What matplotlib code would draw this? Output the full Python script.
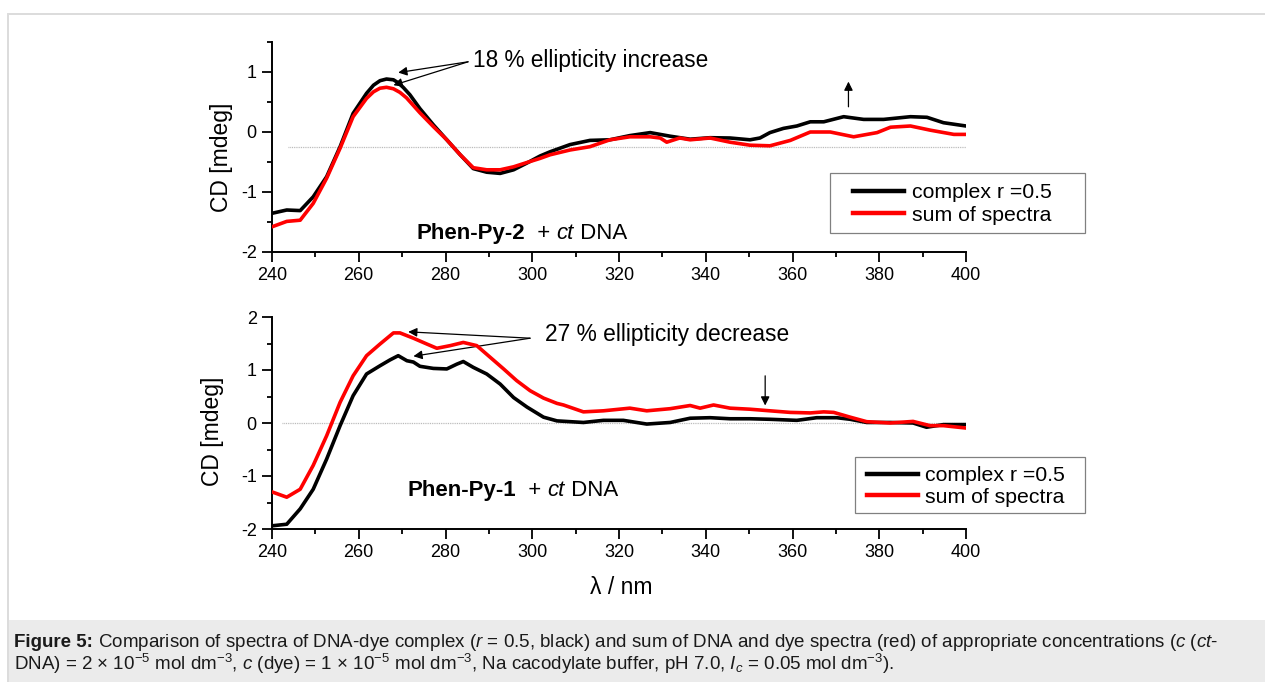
import matplotlib
matplotlib.use("Agg")
import matplotlib.pyplot as plt
from matplotlib.lines import Line2D
from matplotlib.patches import Rectangle
from matplotlib.ticker import MultipleLocator
from matplotlib.transforms import offset_copy

plt.rcParams['font.family'] = ['Liberation Sans', 'DejaVu Sans']
plt.rcParams['mathtext.fontset'] = 'custom'
plt.rcParams['mathtext.rm'] = 'Liberation Sans'
plt.rcParams['mathtext.it'] = 'Liberation Sans:italic'
plt.rcParams['mathtext.bf'] = 'Liberation Sans:bold'
plt.rcParams['axes.unicode_minus'] = False

# ---- Phen-Py-2 + ct DNA (upper panel) ----
wl_py2_complex = [240, 243.4, 246.5, 249.5, 252.6, 255.7, 258.7, 261.8, 263.4, 264.9,
                  266.4, 268.0, 269.1, 270.3, 271.8, 274.1, 277.2, 280.3, 283.4, 286.4,
                  289.5, 292.6, 295.7, 298.7, 301.8, 304.1, 308.7, 313.3, 317.9, 322.5,
                  327.2, 331.8, 336.4, 341.0, 345.6, 350.2, 352.5, 354.8, 357.9, 361.0,
                  364.1, 367.2, 371.8, 376.4, 381.0, 387.2, 391.0, 394.8, 400]
cd_py2_complex = [-1.355, -1.30, -1.31, -1.08, -0.745, -0.245, 0.31, 0.645, 0.78, 0.855,
                  0.883, 0.87, 0.82, 0.74, 0.62, 0.39, 0.12, -0.13, -0.38, -0.61,
                  -0.67, -0.69, -0.63, -0.52, -0.40, -0.33, -0.21, -0.14, -0.13, -0.06,
                  -0.01, -0.07, -0.12, -0.095, -0.10, -0.13, -0.10, -0.01, 0.06, 0.10,
                  0.17, 0.17, 0.255, 0.21, 0.21, 0.255, 0.245, 0.155, 0.10]

wl_py2_sum = [240, 243.4, 246.5, 249.5, 252.6, 255.7, 258.7, 261.8, 263.4, 264.9,
              266.4, 268.0, 269.5, 271.0, 274.1, 277.2, 280.3, 283.4, 286.4, 289.5,
              292.6, 295.7, 298.7, 301.8, 304.1, 308.7, 313.3, 317.9, 322.5, 327.2,
              329.5, 331.0, 334.0, 336.4, 341.0, 345.6, 350.2, 354.8, 359.5, 364.1,
              368.7, 374.1, 379.5, 382.6, 387.2, 391.8, 397.2, 400]
cd_py2_sum = [-1.58, -1.49, -1.47, -1.19, -0.77, -0.27, 0.255, 0.56, 0.67, 0.73,
              0.745, 0.72, 0.66, 0.57, 0.32, 0.09, -0.13, -0.38, -0.595, -0.63,
              -0.63, -0.58, -0.51, -0.44, -0.38, -0.30, -0.245, -0.13, -0.08, -0.08,
              -0.10, -0.17, -0.10, -0.13, -0.10, -0.17, -0.22, -0.23, -0.14, 0.0,
              0.0, -0.08, -0.01, 0.08, 0.10, 0.03, -0.04, -0.04]

# ---- Phen-Py-1 + ct DNA (lower panel) ----
wl_py1_complex = [240, 243.4, 246.5, 249.5, 252.6, 255.7, 258.7, 261.8, 264.9, 267.2,
                  269.1, 271.1, 272.6, 274.1, 277.2, 280.3, 282.6, 284.1, 286.4, 289.5,
                  292.6, 295.7, 298.8, 302.6, 305.7, 311.8, 316.4, 321.0, 326.4, 331.8,
                  336.4, 341.0, 345.6, 350.2, 354.8, 361.0, 365.6, 370.2, 373.3, 377.1,
                  382.5, 387.8, 390.9, 394.8, 400]
cd_py1_complex = [-1.94, -1.91, -1.62, -1.25, -0.68, -0.05, 0.515, 0.925, 1.08, 1.19,
                  1.27, 1.175, 1.15, 1.07, 1.03, 1.02, 1.11, 1.16, 1.05, 0.925,
                  0.735, 0.48, 0.30, 0.11, 0.04, 0.01, 0.05, 0.05, -0.02, 0.01,
                  0.09, 0.10, 0.08, 0.08, 0.07, 0.05, 0.10, 0.10, 0.07, 0.01,
                  0.01, 0.0, -0.08, -0.03, -0.03]

wl_py1_sum = [240, 243.4, 246.5, 249.5, 252.6, 255.7, 258.7, 261.8, 264.9, 268.0,
              269.5, 272.6, 275.7, 278.0, 281.1, 284.1, 287.2, 290.3, 293.4, 296.4,
              299.5, 302.6, 305.7, 307.2, 311.8, 316.4, 322.5, 326.4, 331.8, 336.4,
              338.7, 341.8, 345.6, 350.2, 354.8, 359.5, 364.1, 367.2, 369.5, 373.3,
              377.1, 382.5, 387.8, 391.7, 394.8, 400]
cd_py1_sum = [-1.30, -1.40, -1.25, -0.80, -0.24, 0.39, 0.89, 1.27, 1.49, 1.70,
              1.70, 1.60, 1.49, 1.41, 1.46, 1.52, 1.46, 1.24, 1.02, 0.80,
              0.61, 0.47, 0.37, 0.34, 0.21, 0.23, 0.28, 0.23, 0.27, 0.33,
              0.28, 0.34, 0.28, 0.26, 0.23, 0.20, 0.19, 0.21, 0.20, 0.11,
              0.025, 0.0, 0.03, -0.05, -0.05, -0.095]

legend_labels = ["complex r =0.5", "sum of spectra"]
x_ticks = [240, 260, 280, 300, 320, 340, 360, 380, 400]
y_ticks_top = [-2, -1, 0, 1]
y_ticks_bottom = [-2, -1, 0, 1, 2]
baseline_top = -0.25
baseline_bottom = 0.0

W, H = 1265, 682
fig = plt.figure(figsize=(W / 100, H / 100), dpi=100)
renderer = fig.canvas.get_renderer()


def fx(px):
    return px / W


def fy(py):
    return 1 - py / H


# page frame and caption panel
fig.patches.append(Rectangle((fx(8), -0.1), 1.0, fy(13.5) + 0.1, transform=fig.transFigure,
                             facecolor='white', edgecolor='#dcdcdc', lw=1.4, zorder=-2))
fig.patches.append(Rectangle((fx(8.7), 0), 1.0, fy(620), transform=fig.transFigure,
                             facecolor='#ebebeb', edgecolor='none', zorder=-1))

ax1 = fig.add_axes([fx(272), fy(252), 694 / W, 210 / H])
ax2 = fig.add_axes([fx(272), fy(529), 694 / W, 212 / H])

dot_pattern = [0.72, 0.72] * 23 + [0.72, 6.0]


def style_axes(ax, ylim, yticks):
    ax.set_xlim(240, 400)
    ax.set_ylim(*ylim)
    ax.set_xticks(x_ticks)
    ax.set_yticks(yticks)
    ax.xaxis.set_minor_locator(MultipleLocator(10))
    ax.yaxis.set_minor_locator(MultipleLocator(0.5))
    for s in ('top', 'right'):
        ax.spines[s].set_visible(False)
    for s in ('left', 'bottom'):
        ax.spines[s].set_linewidth(1.4)
    ax.tick_params(which='major', direction='out', length=7, width=1.3,
                   labelsize=13, pad=4, colors='black')
    ax.tick_params(which='minor', direction='out', length=3.8, width=1.3)
    ax.patch.set_alpha(0)


def draw_panel(ax, wl_c, cd_c, wl_s, cd_s, base, base_start):
    ax.plot([base_start, 400], [base, base], color='#b4b4b4', lw=0.9,
            dashes=dot_pattern, zorder=1)
    ax.plot(wl_c, cd_c, color='black', lw=2.6, solid_joinstyle='round',
            solid_capstyle='round', zorder=3)
    ax.plot(wl_s, cd_s, color='#ff0000', lw=2.6, solid_joinstyle='round',
            solid_capstyle='round', zorder=4)


LEG_SIZE = 15.3


def add_legend(ax, box, entry_left, entry_mid, spacing, textpad):
    """Legend entries without their own frame, inside a separately drawn box."""
    x0, y0, x1, y1 = box
    ax.add_patch(Rectangle((fx(x0), fy(y1)), (x1 - x0) / W, (y1 - y0) / H,
                           transform=fig.transFigure, facecolor='white',
                           edgecolor='#808080', lw=0.9, zorder=5, clip_on=False))
    handles = [Line2D([], [], color='black', lw=3.2),
               Line2D([], [], color='#ff0000', lw=3.2)]
    leg = ax.legend(handles, legend_labels, loc='center left',
                    bbox_to_anchor=(fx(entry_left), fy(entry_mid)),
                    bbox_transform=fig.transFigure, borderaxespad=0, borderpad=0,
                    frameon=False, fontsize=LEG_SIZE, handlelength=2.42,
                    handletextpad=textpad, labelspacing=spacing)
    leg.set_zorder(6)
    return leg


def run_text(x, y, parts, size, transform, **common):
    """Write pieces of text one after another on a shared baseline."""
    offset = 0.0
    for text, kw in parts:
        tr = offset_copy(transform, fig=fig, x=offset, y=0, units='dots')
        t = fig.text(x, y, text, fontsize=size, va='baseline', ha='left',
                     transform=tr, **common, **kw)
        offset += t.get_window_extent(renderer).width


def arrow(ax, tail, head):
    ax.annotate('', xy=head, xytext=tail,
                arrowprops=dict(arrowstyle='-|>', lw=0.9, color='black',
                                mutation_scale=13, shrinkA=0, shrinkB=0))


# upper panel
style_axes(ax1, (-2, 1.5), y_ticks_top)
draw_panel(ax1, wl_py2_complex, cd_py2_complex, wl_py2_sum, cd_py2_sum,
           baseline_top, 243.7)
add_legend(ax1, (830, 173, 1085, 233), 853, 204, 0.155, 0.37)
ax1.text(286.4, 1.20, "18 % ellipticity increase", fontsize=16.3, va='center', ha='left')
arrow(ax1, (285.2, 1.17), (269.1, 0.99))
arrow(ax1, (285.2, 1.17), (268.0, 0.78))
arrow(ax1, (372.9, 0.42), (372.9, 0.84))
run_text(273.3, -1.78, [("Phen-Py-2", dict(fontweight='bold')), ("  + ", {}),
                         ("ct", dict(fontstyle='italic')), (" DNA", {})],
         16, ax1.transData)

# lower panel
style_axes(ax2, (-2, 2), y_ticks_bottom)
draw_panel(ax2, wl_py1_complex, cd_py1_complex, wl_py1_sum, cd_py1_sum,
           baseline_bottom, 242.3)
add_legend(ax2, (855, 457, 1085, 513), 867, 486.5, 0.11, 0.33)
ax2.text(302.9, 1.67, "27 % ellipticity decrease", fontsize=16.4, va='center', ha='left')
arrow(ax2, (299.5, 1.60), (271.4, 1.72))
arrow(ax2, (299.5, 1.60), (272.6, 1.26))
arrow(ax2, (353.7, 0.89), (353.7, 0.33))
run_text(271.2, -1.38, [("Phen-Py-1", dict(fontweight='bold')), ("  + ", {}),
                         ("ct", dict(fontstyle='italic')), (" DNA", {})],
         16, ax2.transData)

# axis titles
fig.text(fx(221.5), fy(157.5), "CD [mdeg]", rotation=90, fontsize=16.5,
         ha='center', va='center')
fig.text(fx(213), fy(431), "CD [mdeg]", rotation=90, fontsize=16.5,
         ha='center', va='center')
fig.text(fx(621), fy(587), "λ / nm", fontsize=16.5, ha='center', va='center')

# caption
cap1 = (r"Comparison of spectra of DNA-dye complex ($\mathit{r}$ = 0.5, "
        r"black) and sum of DNA and dye spectra (red) of appropriate concentrations "
        r"($\mathit{c}$ ($\mathit{ct}$-")
cap2 = (r"DNA) = 2 × 10$^{-5}$ mol dm$^{-3}$, $\mathit{c}$ (dye) = 1 × 10$^{-5}$ mol dm$^{-3}$, "
        r"Na cacodylate buffer, pH 7.0, $\mathit{I}_{\mathit{c}}$ = 0.05 mol dm$^{-3}$).")
cap_size = 13.5
run_text(fx(14), fy(647), [("Figure 5:", dict(fontweight='bold')), (" " + cap1, {})],
         cap_size, fig.transFigure, color='#1a1a1a')
run_text(fx(14), fy(670), [(cap2, {})], cap_size, fig.transFigure, color='#1a1a1a')

fig.savefig("out.png", dpi=100)
